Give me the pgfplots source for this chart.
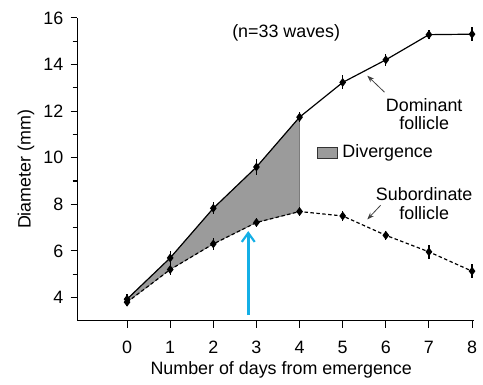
\documentclass[border=0pt]{standalone}
\usepackage{pgfplots}
\pgfplotsset{compat=1.18}
\usepackage{fontspec}
\setmainfont{Liberation Sans}
\usetikzlibrary{arrows.meta}
\definecolor{shade}{RGB}{155,155,155}
\definecolor{bluearrow}{RGB}{20,175,230}
\newcommand{\ff}{\fontsize{18bp}{21bp}\selectfont}
\begin{document}
\ff
\begin{tikzpicture}
\begin{axis}[
  scale only axis, width=399bp, height=305bp,
  xmin=-1.15, xmax=8.04, ymin=3, ymax=16,
  axis x line=bottom, axis y line=left,
  axis line style={-, line width=1.2pt},
  tick align=outside,
  major tick length=7bp, minor tick length=5bp,
  every tick/.style={black, line width=1.1pt},
  xtick={0,1,2,3,4,5,6,7,8},
  ytick={4,6,8,10,12,14,16},
  minor ytick={5,7,9,11,13,15},
  /pgf/number format/assume math mode=true,
  ticklabel style={font=\ff},
  xticklabel style={yshift=-7bp},
  yticklabel style={xshift=-1bp},
  label style={font=\ff},
  xlabel={Number of days from emergence},
  ylabel={Diameter (mm)},
  xlabel style={at={(axis description cs:0.514,-0.163)}, anchor=center},
  ylabel style={at={(axis description cs:-0.130,0.5)}, anchor=center},
  clip=false,
]
% divergence area
\addplot[fill=shade, draw=gray!70!black, line width=0.4pt, forget plot]
  coordinates {(0,3.93)(1,5.7)(2,7.83)(3,9.6)(4,11.74)(4,7.69)(3,7.22)(2,6.3)(1,5.2)(0,3.8)} -- cycle;
% dominant
\addplot[black, line width=1.2pt, mark=diamond*, mark size=3.5bp,
  error bars/.cd, y dir=both, y explicit, error bar style={line width=1.2pt}, error mark=none]
  coordinates {
  (0,3.93) +- (0,0.2)
  (1,5.7) +- (0,0.3)
  (2,7.83) +- (0,0.25)
  (3,9.6) +- (0,0.35)
  (4,11.74) +- (0,0.2)
  (5,13.23) +- (0,0.3)
  (6,14.2) +- (0,0.25)
  (7,15.28) +- (0,0.2)
  (8,15.3) +- (0,0.3)
  };
% subordinate
\addplot[black, line width=1.2pt, dash pattern=on 3.5pt off 2.5pt, mark=diamond*, mark size=3.5bp, mark options={solid},
  error bars/.cd, y dir=both, y explicit, error bar style={line width=1.2pt, solid}, error mark=none]
  coordinates {
  (0,3.8) +- (0,0.15)
  (1,5.2) +- (0,0.25)
  (2,6.3) +- (0,0.25)
  (3,7.22) +- (0,0.2)
  (4,7.69) +- (0,0.2)
  (5,7.5) +- (0,0.2)
  (6,6.67) +- (0,0.2)
  (7,5.96) +- (0,0.3)
  (8,5.13) +- (0,0.3)
  };
% blue arrow
\addplot[bluearrow, line width=2.6pt, -{Straight Barb[length=9bp,width=13bp,line width=2.2pt]}]
  coordinates {(2.81,3.25)(2.81,6.85)};
% annotation arrows
\addplot[black!75, line width=0.8pt, -{Stealth[length=7bp,width=5bp]}]
  coordinates {(5.97,12.81)(5.57,13.52)};
\addplot[black!75, line width=0.8pt, -{Stealth[length=7bp,width=5bp]}]
  coordinates {(5.88,7.96)(5.57,7.35)};
% texts
\node[anchor=center] at (axis cs:3.69,15.36) {(n=33 waves)};
\node[align=center, anchor=center, inner sep=0pt] at (axis cs:6.89,11.87) {Dominant\\[-2bp]follicle};
\node[align=center, anchor=center, inner sep=0pt] at (axis cs:6.89,8.04) {Subordinate\\[-2bp]follicle};
\node[draw=black!80, fill=shade, minimum width=20bp, minimum height=11bp, inner sep=0pt, line width=0.6pt] at (axis cs:4.65,10.21) {};
\node[anchor=west, inner sep=0pt] at (axis cs:4.99,10.21) {Divergence};
\path (axis description cs:-0.1955,-0.197) rectangle (axis description cs:1.015,1.059);
\end{axis}
\end{tikzpicture}
\end{document}
